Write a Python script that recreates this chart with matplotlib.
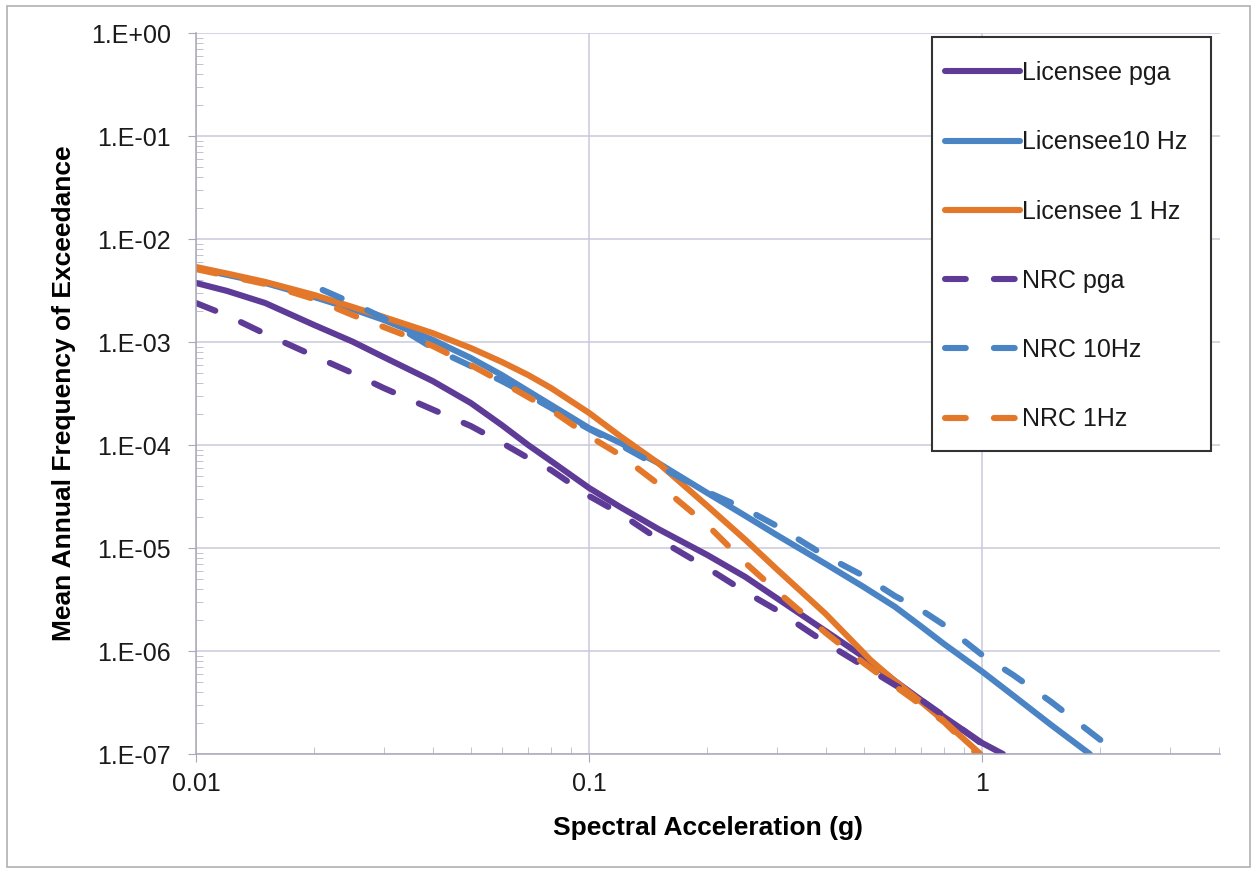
import matplotlib
matplotlib.use("Agg")
import matplotlib.pyplot as plt
from matplotlib.patches import Rectangle
from matplotlib.ticker import LogLocator, FixedLocator, NullFormatter

# ---- data ----
lic_pga_x = [0.01, 0.012, 0.015, 0.02, 0.025, 0.03, 0.04, 0.05, 0.06, 0.07, 0.08, 0.1, 0.12, 0.15,
             0.2, 0.25, 0.3, 0.4, 0.5, 0.6, 0.7, 0.8, 1.0, 1.13]
lic_pga_y = [3.74e-3, 3.13e-3, 2.39e-3, 1.46e-3, 1.01e-3, 7.15e-4, 4.18e-4, 2.56e-4, 1.56e-4, 1.0e-4,
             7.0e-5, 3.83e-5, 2.50e-5, 1.53e-5, 8.55e-6, 5.23e-6, 3.27e-6, 1.56e-6, 8.75e-7, 5.12e-7,
             3.34e-7, 2.29e-7, 1.28e-7, 1.0e-7]

lic_10_x = [0.01, 0.015, 0.02, 0.025, 0.03, 0.04, 0.05, 0.06, 0.07, 0.08, 0.1, 0.12, 0.15, 0.2,
            0.25, 0.3, 0.4, 0.5, 0.6, 0.7, 0.8, 1.0, 1.2, 1.5, 1.88]
lic_10_y = [5.2e-3, 3.74e-3, 2.73e-3, 2.09e-3, 1.64e-3, 1.05e-3, 7.0e-4, 4.78e-4, 3.34e-4, 2.45e-4,
            1.46e-4, 1.05e-4, 6.68e-5, 3.42e-5, 2.05e-5, 1.34e-5, 7.0e-6, 4.18e-6, 2.69e-6, 1.73e-6,
            1.17e-6, 6.32e-7, 3.70e-7, 1.91e-7, 1.0e-7]

lic_1_x = [0.01, 0.012, 0.015, 0.02, 0.025, 0.03, 0.04, 0.05, 0.06, 0.07, 0.08, 0.1, 0.12, 0.15,
           0.2, 0.25, 0.3, 0.4, 0.5, 0.52, 0.6, 0.7, 0.8, 0.99]
lic_1_y = [5.35e-3, 4.62e-3, 3.83e-3, 2.86e-3, 2.19e-3, 1.75e-3, 1.22e-3, 8.75e-4, 6.40e-4, 4.78e-4,
           3.58e-4, 2.05e-4, 1.22e-4, 6.68e-5, 2.56e-5, 1.2e-5, 6.25e-6, 2.29e-6, 9.57e-7, 8.18e-7,
           5.12e-7, 3.2e-7, 2.09e-7, 1.0e-7]

nrc_pga_x = [0.01, 0.012, 0.015, 0.02, 0.025, 0.03, 0.04, 0.05, 0.06, 0.07, 0.08, 0.1, 0.12, 0.15,
             0.2, 0.25, 0.3, 0.4, 0.5, 0.6, 0.7, 0.8, 1.0, 1.08]
nrc_pga_y = [2.39e-3, 1.81e-3, 1.20e-3, 7.31e-4, 5.0e-4, 3.58e-4, 2.21e-4, 1.53e-4, 1.05e-4, 7.48e-5,
             5.72e-5, 3.2e-5, 2.16e-5, 1.22e-5, 6.40e-6, 3.74e-6, 2.50e-6, 1.20e-6, 7.15e-7, 4.68e-7,
             3.34e-7, 2.34e-7, 1.25e-7, 1.0e-7]

nrc_10_x = [0.021, 0.025, 0.03, 0.04, 0.05, 0.06, 0.07, 0.08, 0.1, 0.12, 0.15, 0.2, 0.25, 0.3, 0.4,
            0.5, 0.6, 0.7, 0.8, 1.0, 1.2, 1.5, 2.0, 2.22]
nrc_10_y = [3.2e-3, 2.39e-3, 1.71e-3, 8.75e-4, 5.85e-4, 4.18e-4, 3.06e-4, 2.29e-4, 1.43e-4, 1.0e-4,
            6.25e-5, 3.5e-5, 2.39e-5, 1.64e-5, 8.36e-6, 5.35e-6, 3.42e-6, 2.50e-6, 1.79e-6, 9.15e-7,
            5.85e-7, 3.2e-7, 1.37e-7, 1.0e-7]

nrc_1_x = [0.01, 0.015, 0.02, 0.025, 0.03, 0.04, 0.05, 0.06, 0.07, 0.08, 0.1, 0.12, 0.15, 0.2, 0.25,
           0.3, 0.4, 0.5, 0.6, 0.7, 0.8, 0.97]
nrc_1_y = [5.1e-3, 3.66e-3, 2.61e-3, 1.83e-3, 1.40e-3, 9.15e-4, 5.98e-4, 4.09e-4, 2.92e-4, 2.19e-4,
           1.22e-4, 8.0e-5, 4.18e-5, 1.67e-5, 7.15e-6, 3.83e-6, 1.50e-6, 7.64e-7, 4.57e-7, 2.99e-7,
           2.05e-7, 1.0e-7]

labels = ["Licensee pga", "Licensee10 Hz", "Licensee 1 Hz", "NRC pga", "NRC 10Hz", "NRC 1Hz"]
y_ticks = [1e0, 1e-1, 1e-2, 1e-3, 1e-4, 1e-5, 1e-6, 1e-7]
y_tick_labels = ["1.E+00", "1.E-01", "1.E-02", "1.E-03", "1.E-04", "1.E-05", "1.E-06", "1.E-07"]
x_ticks = [0.01, 0.1, 1]
x_tick_labels = ["0.01", "0.1", "1"]

PURPLE = "#5d3b96"
BLUE = "#4a84c4"
ORANGE = "#e4782a"

plt.rcParams['font.family'] = ['Liberation Sans', 'DejaVu Sans']

W, H = 1257, 871
AX_L, AX_R, AX_T, AX_B = 196, 1220, 33, 754
fig = plt.figure(figsize=(W / 100, H / 100), dpi=100)
ax = fig.add_axes([AX_L / W, 1 - AX_B / H, (AX_R - AX_L) / W, (AX_B - AX_T) / H])


def axfrac(px, py):
    return ((px - AX_L) / (AX_R - AX_L), (AX_B - py) / (AX_B - AX_T))


lw = 4.4
dash = (3.4, 4.6)
common = dict(solid_capstyle='round', dash_capstyle='round', solid_joinstyle='round')
ax.plot(lic_pga_x, lic_pga_y, color=PURPLE, lw=lw, label=labels[0], **common)
ax.plot(lic_10_x, lic_10_y, color=BLUE, lw=lw, label=labels[1], **common)
ax.plot(lic_1_x, lic_1_y, color=ORANGE, lw=lw, label=labels[2], **common)
ax.plot(nrc_pga_x, nrc_pga_y, color=PURPLE, lw=lw, dashes=dash, label=labels[3], **common)
ax.plot(nrc_10_x, nrc_10_y, color=BLUE, lw=lw, dashes=dash, label=labels[4], **common)
ax.plot(nrc_1_x, nrc_1_y, color=ORANGE, lw=lw, dashes=dash, label=labels[5], **common)

ax.set_xscale('log')
ax.set_yscale('log')
ax.set_xlim(0.01, 4.03)
ax.set_ylim(1e-7, 1e0)

ax.yaxis.set_major_locator(FixedLocator(y_ticks))
ax.set_yticklabels(y_tick_labels)
ax.yaxis.set_minor_locator(LogLocator(base=10, subs=range(2, 10), numticks=20))
ax.yaxis.set_minor_formatter(NullFormatter())
ax.xaxis.set_major_locator(FixedLocator(x_ticks))
ax.set_xticklabels(x_tick_labels)
ax.xaxis.set_minor_locator(LogLocator(base=10, subs=range(2, 10), numticks=20))
ax.xaxis.set_minor_formatter(NullFormatter())

gridc = "#c9c9dc"
ax.grid(True, which='major', color=gridc, lw=1.1)
ax.set_axisbelow(True)
for s in ['top', 'right']:
    ax.spines[s].set_visible(False)
for s in ['left', 'bottom']:
    ax.spines[s].set_color("#a8a8b8")
    ax.spines[s].set_linewidth(1.1)

ax.tick_params(axis='both', which='major', direction='out', length=6, color="#a8a8b8",
               labelsize=18, labelcolor="#1a1a1a")
ax.tick_params(axis='both', which='minor', direction='in', length=5, color="#b8b8c8")
ax.tick_params(axis='y', which='major', pad=12)
ax.tick_params(axis='x', which='major', pad=7)

ax.set_xlabel("Spectral Acceleration (g)", fontsize=19, fontweight='bold', labelpad=14)
ax.set_ylabel("Mean Annual Frequency of Exceedance", fontsize=19, fontweight='bold', labelpad=11)

# legend frame drawn at the reference position
(fx0, fy0) = axfrac(932, 451)
(fx1, fy1) = axfrac(1211, 37)
ax.add_patch(Rectangle((fx0, fy0), fx1 - fx0, fy1 - fy0, transform=ax.transAxes,
                       facecolor='white', edgecolor='#333333', lw=1.5, zorder=4, clip_on=False))

leg = ax.legend(loc='upper left', bbox_to_anchor=axfrac(945, 61), frameon=False,
                fontsize=18, handlelength=3.0, handletextpad=0.1, labelspacing=1.81,
                borderpad=0, borderaxespad=0)
leg.set_zorder(5)
for t in leg.get_texts():
    t.set_color("#1a1a1a")

fig.patches.append(Rectangle((7 / W, 4 / H), 1243 / W, 861 / H, transform=fig.transFigure,
                             fill=False, edgecolor="#b0b0b0", lw=1.2))

fig.savefig("out.png", dpi=100)
